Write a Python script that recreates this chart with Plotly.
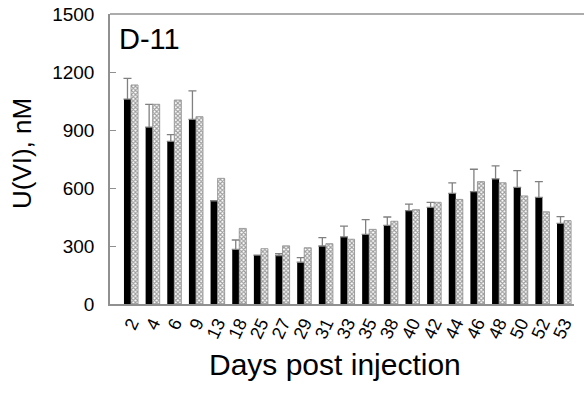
import plotly.graph_objects as go

days = ["2", "4", "6", "9", "13", "18", "25", "27", "29", "31", "33",
        "35", "38", "40", "42", "44", "46", "48", "50", "52", "53"]
series_a = [1060, 915, 841, 955, 534, 283, 253, 250, 216, 300, 347,
            360, 407, 483, 500, 572, 581, 647, 603, 552, 417]
series_a_err = [107, 118, 35, 147, None, 48, None, 10, 24, 43, 56,
                76, 43, 34, 26, 55, 116, 67, 87, 81, 35]
series_b = [1133, 1033, 1055, 969, 650, 391, 286, 301, 291, 312, 335,
            386, 428, 488, 526, 541, 633, 627, 559, 477, 431]
y_ticks = [0, 300, 600, 900, 1200, 1500]

fig = go.Figure()
fig.add_trace(go.Bar(
    x=days, y=series_a,
    marker=dict(color="black", line=dict(width=0)),
    error_y=dict(type="data", symmetric=False, array=series_a_err,
                 arrayminus=[0] * len(days), color="#808080",
                 thickness=1.3, width=4),
))
fig.add_trace(go.Bar(
    x=days, y=series_b,
    marker=dict(color="white", line=dict(color="#8a8a8a", width=0.8),
                pattern=dict(shape="x", size=3, solidity=0.6,
                             fgcolor="#3a3a3a", bgcolor="white")),
))

font_family = "Arial"
fig.update_layout(
    width=584, height=395,
    margin=dict(l=110, r=10, t=14, b=91, autoexpand=False),
    paper_bgcolor="white", plot_bgcolor="white",
    showlegend=False,
    barmode="group", bargap=0.35, bargroupgap=0,
    font=dict(family=font_family, color="black"),
    xaxis=dict(
        type="category", tickangle=-65, range=[-0.97, 20.46],
        tickmode="linear", tick0=0, dtick=1, automargin=False,
        tickfont=dict(size=18, family=font_family),
        showline=True, linecolor="#909090", linewidth=1.5,
        ticks="", showgrid=False,
    ),
    yaxis=dict(
        range=[0, 1500], tickvals=y_ticks, automargin=False,
        tickfont=dict(size=19, family=font_family),
        showline=True, linecolor="#909090", linewidth=1.5,
        ticks="inside", ticklen=6, tickcolor="#909090",
        ticklabelstandoff=10,
        showgrid=False, zeroline=False,
    ),
    shapes=[dict(type="line", xref="paper", yref="paper", x0=0, x1=1.03,
                 y0=1, y1=1, line=dict(color="#909090", width=1.5))],
    annotations=[
        dict(text="D-11", xref="paper", yref="paper", x=0.015, y=0.975,
             xanchor="left", yanchor="top", showarrow=False,
             font=dict(size=29, family=font_family)),
        dict(text="Days post injection", xref="paper", yref="paper",
             x=0.485, y=-0.21, xanchor="center", yanchor="middle",
             showarrow=False, font=dict(size=30, family=font_family)),
        dict(text="U(VI), nM", xref="paper", yref="paper", textangle=-90,
             x=-0.19, y=0.52, xanchor="center", yanchor="middle",
             showarrow=False, font=dict(size=26, family=font_family)),
    ],
)

fig.write_html("out.html", config={"displayModeBar": False},
               post_script="document.body.style.margin='0';document.body.style.overflow='hidden';")
